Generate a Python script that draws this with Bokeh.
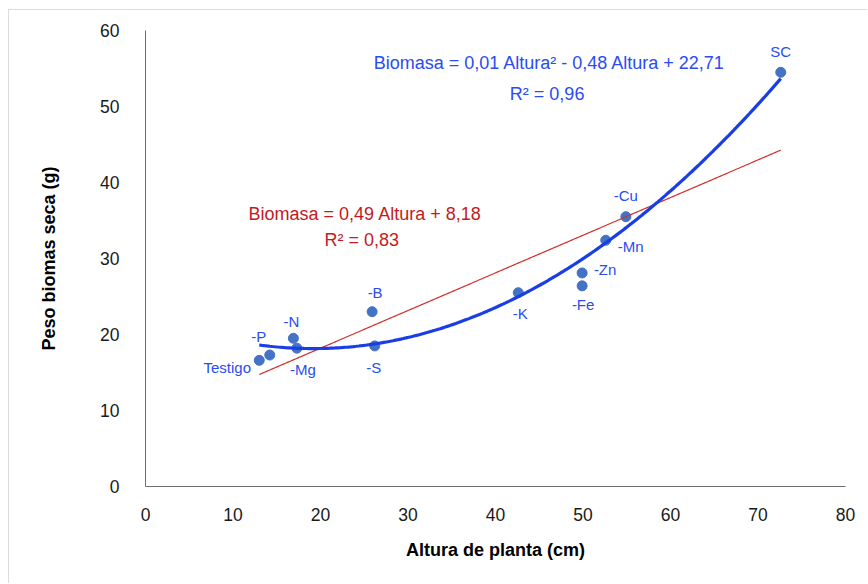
import numpy as np
from bokeh.plotting import figure
from bokeh.models import Range1d, FixedTicker, Label, ColumnDataSource
from bokeh.core.properties import value
from bokeh.embed import file_html
from bokeh.resources import INLINE

# ---- data ----
tratamientos = ["Testigo", "-P", "-N", "-Mg", "-B", "-S", "-K", "-Fe", "-Zn", "-Mn", "-Cu", "SC"]
altura = [13.0, 14.2, 16.9, 17.3, 25.9, 26.2, 42.6, 49.9, 49.9, 52.6, 54.9, 72.6]
biomasa = [16.6, 17.3, 19.5, 18.2, 23.0, 18.5, 25.5, 26.4, 28.1, 32.4, 35.5, 54.5]
x_ticks = [0, 10, 20, 30, 40, 50, 60, 70, 80]
y_ticks = [0, 10, 20, 30, 40, 50, 60]
eq_lineal = "Biomasa = 0,49 Altura + 8,18"
r2_lineal = "R²  = 0,83"
eq_cuad = "Biomasa = 0,01 Altura² - 0,48 Altura + 22,71"
r2_cuad = "R² = 0,96"

# label placement offsets (pixels) for point labels
lab_dx = [-32, -11, -2, 6, 3, -1, 2, 1, 23, 25, 0, 0]
lab_dy = [7, -19, -17, 21, -19, 22, 21, 19, -3, 6, -21, -21]

FONT = "Liberation Sans"
BLUE_TXT = "#2a4cf2"
RED_TXT = "#c41a22"

p = figure(width=859, height=574, output_backend="svg", toolbar_location=None,
           x_range=Range1d(0, 80), y_range=Range1d(0, 60),
           min_border_left=136, min_border_right=23, min_border_top=20, min_border_bottom=98,
           background_fill_color="white", border_fill_color="white")
p.margin = (9, 0, 0, 8)
p.styles = {"border-top": "1px solid #dcdcdc", "border-left": "1px solid #dcdcdc"}
p.outline_line_color = None
p.xgrid.visible = False
p.ygrid.visible = False

for ax, ticks in ((p.xaxis, x_ticks), (p.yaxis, y_ticks)):
    ax.ticker = FixedTicker(ticks=ticks)
    ax.major_tick_line_color = None
    ax.minor_tick_line_color = None
    ax.axis_line_color = "#6e6e6e"
    ax.axis_line_width = 1
    ax.major_label_text_font = FONT
    ax.major_label_text_font_size = "17.5px"
    ax.major_label_text_color = "#1a1a1a"
    ax.axis_label_text_font = FONT
    ax.axis_label_text_font_size = "18px"
    ax.axis_label_text_font_style = "bold"
    ax.axis_label_text_color = "black"

p.xaxis.axis_label = "Altura de planta (cm)"
p.yaxis.axis_label = "Peso biomas seca (g)"
p.xaxis.major_label_standoff = 15
p.yaxis.major_label_standoff = 20
p.xaxis.axis_label_standoff = 16
p.yaxis.axis_label_standoff = 38

src = ColumnDataSource(dict(x=altura, y=biomasa, t=tratamientos, dx=lab_dx, dy=lab_dy))
p.scatter("x", "y", source=src, size=10, color="#4472c4")

xa = np.array(altura)
ya = np.array(biomasa)
xs = np.linspace(xa.min(), xa.max(), 200)

lin = np.polyfit(xa, ya, 1)
p.line(xs, np.polyval(lin, xs), line_color="#d0302c", line_width=1.2)

quad = np.polyfit(xa, ya, 2)
p.line(xs, np.polyval(quad, xs), line_color="#1a3ee6", line_width=3.2)

p.text("x", "y", text="t", source=src, x_offset="dx", y_offset="dy",
       text_align="center", text_baseline="middle",
       text_font=value(FONT), text_font_size="15px", text_color=BLUE_TXT)

for txt, x, y, c in ((eq_cuad, 46.2, 55.7, BLUE_TXT), (r2_cuad, 45.9, 51.7, BLUE_TXT),
                     (eq_lineal, 25.1, 35.9, RED_TXT), (r2_lineal, 25.0, 32.4, RED_TXT)):
    p.add_layout(Label(x=x, y=y, text=txt, text_align="center", text_baseline="middle",
                       text_font=FONT, text_font_size="18px", text_color=c))

open("out.html", "w").write(file_html(p, INLINE))
